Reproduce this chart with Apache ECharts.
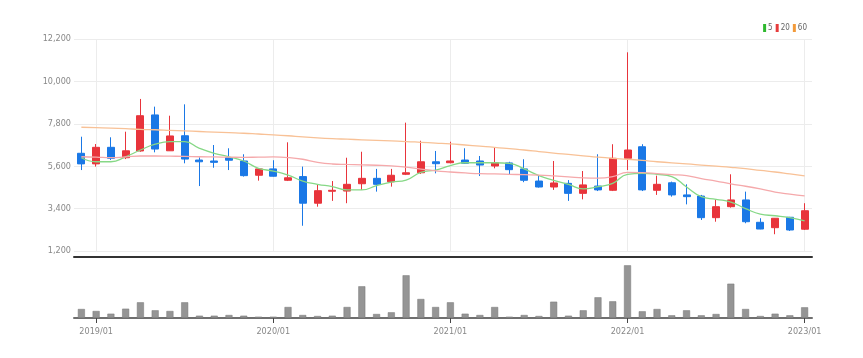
<!DOCTYPE html>
<html>
<head>
<meta charset="utf-8">
<script src="https://cdn.jsdelivr.net/npm/echarts@6/dist/echarts.min.js"></script>
<style>
html,body{margin:0;padding:0;background:#fff;}
#chart{width:863px;height:358px;}
</style>
</head>
<body>
<div id="chart"></div>
<script>
const categories = ["2018/12","2019/01","2019/02","2019/03","2019/04","2019/05","2019/06","2019/07","2019/08","2019/09","2019/10","2019/11","2019/12",
"2020/01","2020/02","2020/03","2020/04","2020/05","2020/06","2020/07","2020/08","2020/09","2020/10","2020/11","2020/12",
"2021/01","2021/02","2021/03","2021/04","2021/05","2021/06","2021/07","2021/08","2021/09","2021/10","2021/11","2021/12",
"2022/01","2022/02","2022/03","2022/04","2022/05","2022/06","2022/07","2022/08","2022/09","2022/10","2022/11","2022/12","2023/01"];

const opens  = [6270,5720,6580,6040,6390,8260,6400,7180,5920,5870,6040,5870,5130,5460,4870,5060,3680,4300,4310,4690,4970,4790,5180,5260,5830,5780,5920,5870,5610,5770,5460,4830,4520,4710,4190,4570,4350,6010,6610,4350,4740,4110,4050,2930,3500,3850,2690,2410,2950,2330];
const closes = [5720,6580,6010,6400,8220,6490,7170,5970,5830,5800,5910,5110,5460,5080,5000,3680,4330,4350,4660,4970,4660,5130,5260,5830,5730,5870,5750,5660,5780,5420,4870,4520,4730,4190,4630,4370,6010,6440,4370,4660,4110,4020,2930,3500,3850,2720,2340,2900,2290,3290];
const lows   = [5400,5580,5920,5970,6350,6320,6390,5750,4570,5520,5400,5060,4850,5060,4830,2510,3500,3800,3680,4370,4280,4540,5140,5200,5230,5750,5720,5090,5490,5180,4770,4490,4370,3800,3880,4310,4310,5400,4310,4110,4020,3620,2810,2720,3450,2640,2330,2070,2240,2290];
const highs  = [7130,6750,7100,7390,9090,8690,8220,8810,6060,6700,6530,6220,5490,5910,6840,5580,4660,4830,6040,6350,5460,5460,7860,6920,6390,6870,6530,6130,6560,5830,5960,5090,5870,4880,5350,6220,6740,11510,6740,5110,4800,4660,4110,3850,5180,4280,2900,2910,2970,3680];

const ma5  = [6040,5830,5830,6090,6440,6740,6870,6870,6530,6270,6090,5870,5490,5350,5140,4830,4660,4540,4370,4370,4590,4770,4880,5280,5400,5630,5780,5780,5780,5750,5460,5110,4870,4660,4420,4540,4710,5180,5230,5180,5060,4520,4020,3880,3740,3400,3110,3030,2930,2760];
const ma20 = [6090,6070,6040,6080,6130,6130,6120,6110,6090,6080,6070,6060,6070,6080,6050,5960,5800,5715,5690,5670,5650,5620,5550,5450,5360,5300,5250,5210,5200,5180,5160,5140,5100,5050,4990,4980,5060,5280,5270,5220,5160,5110,4950,4830,4680,4560,4420,4260,4150,4060];
const ma60 = [7620,7600,7580,7550,7510,7490,7460,7430,7400,7370,7340,7310,7270,7230,7180,7120,7070,7030,7000,6970,6940,6910,6880,6840,6800,6760,6700,6640,6580,6510,6440,6360,6280,6210,6140,6070,6010,5960,5900,5830,5770,5720,5660,5600,5540,5470,5380,5300,5200,5100];

const volumes = [90,70,43,93,157,77,70,157,23,23,30,23,13,13,110,30,20,23,110,317,40,57,427,190,110,157,43,30,110,13,30,20,163,23,77,207,167,527,67,90,27,77,27,40,343,90,20,43,27,107];

const yTicks = [1200, 12200, 2200];

const candleData = opens.map((o, i) => [o, closes[i], lows[i], highs[i]]);
const isYear = (idx, val) => String(val).endsWith('/01');
const FONT = "'DejaVu Sans Condensed', 'Liberation Sans Narrow', 'Roboto Condensed', sans-serif";

const chart = echarts.init(document.getElementById('chart'), null, {renderer: 'canvas'});
chart.setOption({
  animation: false,
  backgroundColor: '#ffffff',
  legend: {
    data: ['5', '20', '60'],
    right: 51, top: 19,
    icon: 'rect', itemWidth: 3, itemHeight: 8, itemGap: 3,
    textStyle: {fontFamily: FONT, fontSize: 8, color: '#666', padding: [0, 0, 0, -3]}
  },
  grid: [
    {left: 74, right: 51, top: 39, height: 212},
    {left: 74, right: 51, top: 258, height: 60}
  ],
  xAxis: [
    {
      type: 'category', gridIndex: 0, data: categories, boundaryGap: true,
      offset: 6,
      axisLine: {show: true, lineStyle: {color: '#333', width: 2}},
      axisTick: {show: false}, axisLabel: {show: false},
      splitLine: {show: true, interval: isYear, alignWithLabel: true, lineStyle: {color: '#ececec', width: 1}}
    },
    {
      type: 'category', gridIndex: 1, data: categories, boundaryGap: true,
      axisLine: {show: true, lineStyle: {color: '#6f6f6f', width: 2}},
      axisTick: {show: true, interval: isYear, alignWithLabel: true, length: 5, lineStyle: {color: '#444'}},
      axisLabel: {show: true, interval: isYear, color: '#888', fontFamily: FONT, fontSize: 9, margin: 9},
      splitLine: {show: false}
    }
  ],
  yAxis: [
    {
      type: 'value', gridIndex: 0, min: yTicks[0], max: yTicks[1], interval: yTicks[2],
      axisLine: {show: false}, axisTick: {show: false},
      axisLabel: {color: '#888', fontFamily: FONT, fontSize: 9, margin: 3,
        formatter: v => v.toLocaleString('en-US')},
      splitLine: {lineStyle: {color: '#ececec'}}
    },
    {
      type: 'value', gridIndex: 1, min: 0, max: 600,
      axisLine: {show: false}, axisTick: {show: false}, axisLabel: {show: false},
      splitLine: {show: false}
    }
  ],
  series: [
    {
      name: 'K', type: 'candlestick', xAxisIndex: 0, yAxisIndex: 0,
      data: candleData, barWidth: 7.5,
      itemStyle: {color: '#e8343b', color0: '#1a78e6', borderColor: '#e8343b', borderColor0: '#1a78e6', borderWidth: 1}
    },
    {
      name: '5', type: 'line', xAxisIndex: 0, yAxisIndex: 0, data: ma5,
      smooth: true, showSymbol: false, symbol: 'none',
      itemStyle: {color: '#2eb82e'}, lineStyle: {color: '#86d886', width: 1.3}
    },
    {
      name: '20', type: 'line', xAxisIndex: 0, yAxisIndex: 0, data: ma20,
      smooth: true, showSymbol: false, symbol: 'none',
      itemStyle: {color: '#e63c3c'}, lineStyle: {color: '#f5a9ab', width: 1.3}
    },
    {
      name: '60', type: 'line', xAxisIndex: 0, yAxisIndex: 0, data: ma60,
      smooth: true, showSymbol: false, symbol: 'none',
      itemStyle: {color: '#f29a3a'}, lineStyle: {color: '#f8c196', width: 1.3}
    },
    {
      name: 'Volume', type: 'bar', xAxisIndex: 1, yAxisIndex: 1, data: volumes,
      barWidth: 7,
      itemStyle: {color: '#959595', borderColor: '#777', borderWidth: 0.5}
    }
  ]
});
</script>
</body>
</html>
